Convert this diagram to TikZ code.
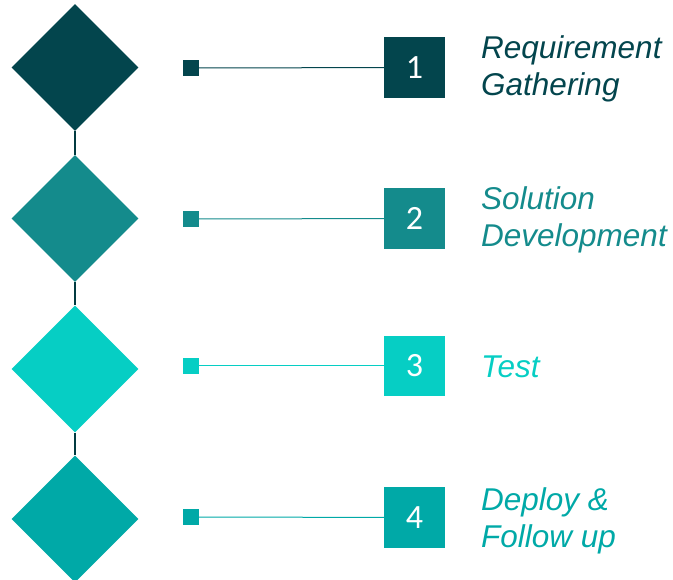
\documentclass[tikz,border=0pt]{standalone}
\usepackage{fontspec}
\setmainfont{Liberation Sans}
\newfontfamily\numfont{Carlito}
\usetikzlibrary{shapes.geometric,positioning}

\definecolor{tealA}{RGB}{3,69,77}
\definecolor{tealB}{RGB}{20,139,140}
\definecolor{tealC}{RGB}{6,206,196}
\definecolor{tealD}{RGB}{0,169,167}

\begin{document}
\begin{tikzpicture}[x=1pt,y=-1pt,
  stage/.style={diamond,minimum width=127pt,minimum height=127pt,inner sep=0pt,fill=#1},
  pin/.style={rectangle,minimum size=16pt,inner sep=0pt,fill=#1},
  numbox/.style={rectangle,minimum size=60.5pt,inner sep=0pt,fill=#1,text=white,
    font=\numfont\fontsize{34}{34}\selectfont},
  stagetext/.style={anchor=west,align=left,inner sep=0pt,text=#1,
    font=\itshape\fontsize{31.5}{37}\selectfont}]

  \useasboundingbox (0,0) rectangle (673,580);

  % diamonds down the left
  \node[stage=tealA] (s1) at (75,67.5) {};
  \node[stage=tealB] (s2) at (75,218.5) {};
  \node[stage=tealC] (s3) at (75,369) {};
  \node[stage=tealD] (s4) at (75,519) {};

  % small markers
  \node[pin=tealA] (p1) at (191,68) {};
  \node[pin=tealB] (p2) at (191,219) {};
  \node[pin=tealC] (p3) at (191,366) {};
  \node[pin=tealD] (p4) at (191,517) {};

  % numbered boxes
  \node[numbox=tealA] (n1) at (414.5,67.5) {1};
  \node[numbox=tealB] (n2) at (414.5,218.5) {2};
  \node[numbox=tealC] (n3) at (414.5,366) {3};
  \node[numbox=tealD] (n4) at (414.5,517.5) {4};

  % texts
  \node[stagetext=tealA] (t1) at (481,68.8) {Requirement\\Gathering};
  \node[stagetext=tealB] (t2) at (481,219.5) {Solution\\Development};
  \node[stagetext=tealC] (t3) at (481,366.5) {Test};
  \node[stagetext=tealD] (t4) at (481,521) {Deploy \&\\Follow up};

  \path[draw=tealA!85!black,line width=1.1pt]
    (s1.south) edge (s2.north)
    (s2.south) edge (s3.north)
    (s3.south) edge (s4.north);

  \draw[tealA,line width=1pt] (p1) -- (n1);
  \draw[tealB,line width=1pt] (p2) -- (n2);
  \draw[tealC,line width=1pt] (p3) -- (n3);
  \draw[tealD,line width=1pt] (p4) -- (n4);
\end{tikzpicture}
\end{document}
